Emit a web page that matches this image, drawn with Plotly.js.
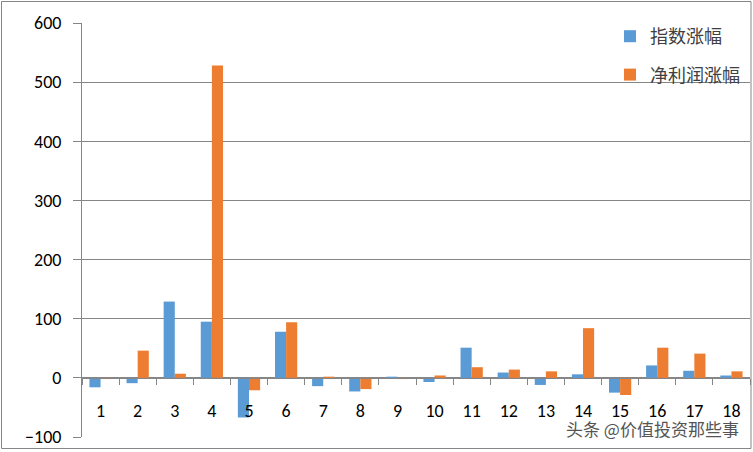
<!DOCTYPE html>
<html>
<head>
<meta charset="utf-8">
<script src="https://cdn.plot.ly/plotly-3.0.1.min.js"></script>
<style>html,body{margin:0;padding:0;background:#fff;}#chart{width:753px;height:452px;}</style>
</head>
<body>
<div id="chart"></div>
<script>
var categories = ["1","2","3","4","5","6","7","8","9","10","11","12","13","14","15","16","17","18"];
var indexChange = [-16, -9, 129, 95, -67, 78, -14, -23, 2, -7, 51, 9, -12, 6, -25, 21, 12, 4];
var profitChange = [-2, 46, 7, 528, -21, 94, 2, -19, -2, 4, 18, 14, 11, 84, -29, 51, 41, 11];
var seriesNames = ["指数涨幅", "净利润涨幅"];
var yTicks = [-100, 0, 100, 200, 300, 400, 500, 600];

var font = "Calibri, Carlito, 'Liberation Sans', 'Noto Sans CJK SC', sans-serif";
var cjk = "'Noto Sans CJK SC', 'Microsoft YaHei', sans-serif";

var traces = [
  {type:"bar", x:categories, y:indexChange, name:seriesNames[0], marker:{color:"#5B9BD5"}, legendgroup:"a"},
  {type:"bar", x:categories, y:profitChange, name:seriesNames[1], marker:{color:"#ED7D31"}, legendgroup:"b"}
];

var W = 668, H = 414, L = 82, T = 23;
function px(x){return (x - L)/W;}
function py(y){return (T + H - y)/H;}

var layout = {
  width:753, height:452,
  margin:{l:L, r:753-L-W, t:T, b:452-T-H},
  paper_bgcolor:"#fff", plot_bgcolor:"#fff",
  barmode:"group", bargap:0.4, bargroupgap:0,
  showlegend:true,
  legend:{x:px(610), y:py(18), xanchor:"left", yanchor:"top", bgcolor:"rgba(0,0,0,0)",
    font:{family:cjk, size:18, color:"#404040"}, traceorder:"grouped", tracegroupgap:12,
    itemwidth:30},
  font:{family:font, size:18, color:"#000"},
  xaxis:{type:"category", anchor:"free", position:1/7, showline:true, linecolor:"#868686", linewidth:1,
    ticks:"outside", tickson:"boundaries", ticklen:6, tickcolor:"#868686",
    showgrid:false, zeroline:false, tickfont:{family:font, size:18, color:"#000"},
    ticklabelstandoff:17, fixedrange:true},
  yaxis:{range:[-100,600], tickvals:yTicks, ticks:"outside", ticklen:8, tickcolor:"#868686",
    showline:true, linecolor:"#868686", showgrid:true, gridcolor:"#868686", gridwidth:1,
    zeroline:false, tickfont:{family:font, size:18, color:"#000"}, ticklabelstandoff:8},
  shapes:[
    {type:"rect", xref:"paper", yref:"paper", x0:px(1.5), x1:px(751), y0:py(448.5), y1:py(1.5),
     line:{color:"#868686", width:1}, fillcolor:"rgba(0,0,0,0)", layer:"below"}
  ],
  annotations:[
    {xref:"paper", yref:"paper", x:px(741), y:py(428), xanchor:"right", yanchor:"middle",
     text:"头条 @价值投资那些事", showarrow:false, font:{family:cjk, size:17, color:"#555"}}
  ]
};

Plotly.newPlot("chart", traces, layout, {displayModeBar:false, staticPlot:true});
</script>
</body>
</html>
